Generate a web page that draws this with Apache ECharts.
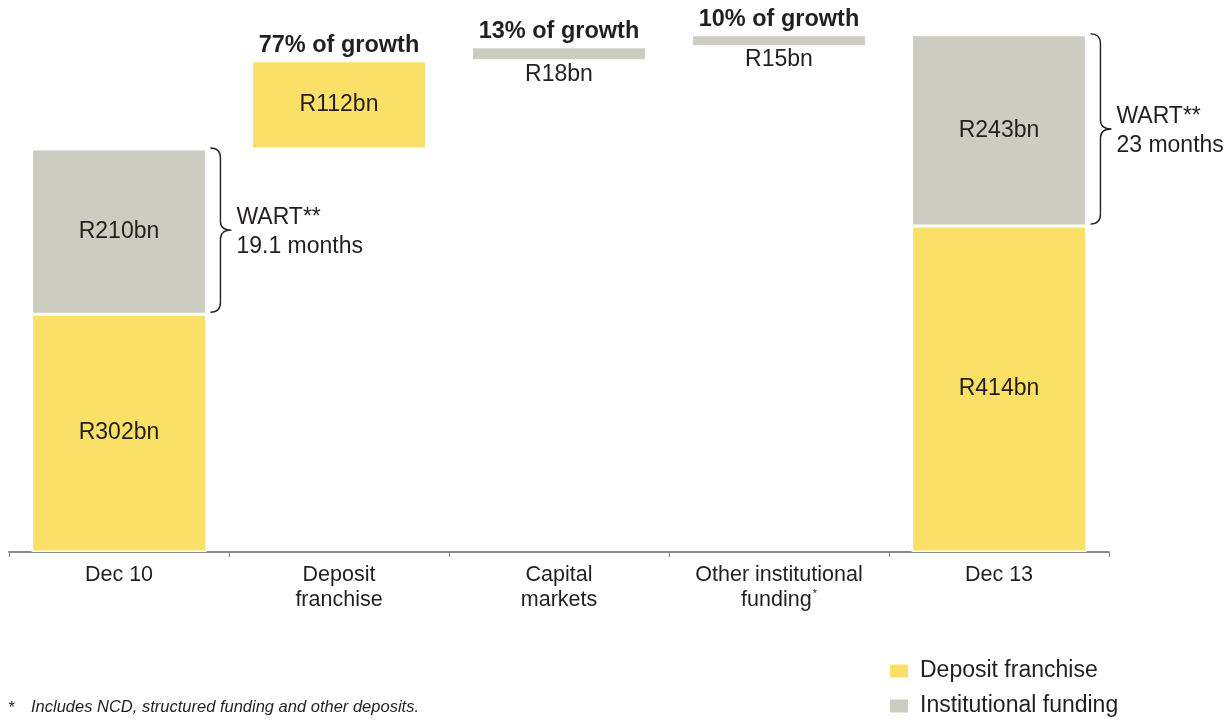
<!DOCTYPE html>
<html>
<head>
<meta charset="utf-8">
<script src="https://cdn.jsdelivr.net/npm/echarts@6/dist/echarts.min.js"></script>
<style>
  html, body { margin: 0; padding: 0; background: #fff; }
  #chart { width: 1231px; height: 720px; }
</style>
</head>
<body>
<div id="chart"></div>
<script>
// Funding growth bridge, Dec 10 to Dec 13 (R bn)
const categories = ['Dec 10', 'Deposit\nfranchise', 'Capital\nmarkets', 'Other institutional\nfunding{sup|*}', 'Dec 13'];
const depositValues = [302, 112, null, null, 414];
const institutionalValues = [210, null, 18, 15, 243];
// true = the bar is a total, false = an increment stacked on the running total
const isTotal = [true, false, false, false, true];
const growthLabels = ['', '77% of growth', '13% of growth', '10% of growth', ''];
const wartLabels = [['WART**', '19.1 months'], null, null, null, ['WART**', '23 months']];
const footnote = 'Includes NCD, structured funding and other deposits.';

const YELLOW = '#FBE068';
const GREY = '#CCCDC0';
const INK = '#231F20';
const FONT = "'Liberation Sans', Arial, Helvetica, sans-serif";
const BAR_RATIO = 0.795;

// invisible offsets that lift each increment onto the running total
const baseValues = [];
const topValues = [];
let running = 0;
categories.forEach((c, i) => {
  const d = depositValues[i] || 0;
  const f = institutionalValues[i] || 0;
  if (isTotal[i]) { baseValues.push(0); running = d + f; topValues.push(running); }
  else { baseValues.push(running); running += d + f; topValues.push(running); }
});

function barData(values) {
  return values.map(v => {
    if (v == null) return '-';
    if (v < 40) return { value: v, label: { position: 'bottom', distance: 2 } };
    return v;
  });
}

const valueLabel = {
  show: true,
  position: 'inside',
  formatter: p => 'R' + p.value + 'bn',
  color: INK,
  fontSize: 23,
  fontFamily: FONT
};

const chart = echarts.init(document.getElementById('chart'), null, { renderer: 'canvas' });

chart.setOption({
  animation: false,
  backgroundColor: '#fff',
  textStyle: { fontFamily: FONT },
  grid: { left: 9, right: 122, top: 1, bottom: 168, containLabel: false },
  legend: {
    data: ['Deposit franchise', 'Institutional funding'],
    orient: 'vertical',
    left: 888,
    top: 659,
    padding: 0,
    itemWidth: 20,
    itemHeight: 15,
    itemGap: 11,
    icon: 'rect',
    textStyle: { fontSize: 23, lineHeight: 24, color: INK, fontFamily: FONT, padding: [0, 0, 0, 6] }
  },
  xAxis: {
    type: 'category',
    data: categories,
    axisLine: { lineStyle: { color: '#8a8a8a', width: 2 } },
    axisTick: { show: true, length: 5, lineStyle: { color: '#8a8a8a', width: 1 } },
    axisLabel: {
      interval: 0,
      margin: 11,
      color: INK,
      fontSize: 21.5,
      lineHeight: 25,
      fontFamily: FONT,
      rich: {
        sup: { fontSize: 11, color: INK, verticalAlign: 'top', lineHeight: 25, padding: [0, 0, 10, 1] }
      }
    }
  },
  yAxis: { type: 'value', min: 0, max: 700, show: false, splitLine: { show: false } },
  series: [
    {
      name: 'base',
      type: 'bar',
      stack: 'bridge',
      barWidth: (BAR_RATIO * 100) + '%',
      itemStyle: { color: 'transparent' },
      emphasis: { disabled: true },
      data: baseValues
    },
    {
      name: 'Deposit franchise',
      type: 'bar',
      stack: 'bridge',
      barWidth: (BAR_RATIO * 100) + '%',
      itemStyle: { color: YELLOW, borderColor: '#fff', borderWidth: 1.5 },
      label: valueLabel,
      data: barData(depositValues)
    },
    {
      name: 'Institutional funding',
      type: 'bar',
      stack: 'bridge',
      barWidth: (BAR_RATIO * 100) + '%',
      itemStyle: { color: GREY, borderColor: '#fff', borderWidth: 1.5 },
      label: valueLabel,
      data: barData(institutionalValues)
    },
    {
      // share-of-growth captions above each increment
      name: 'growth',
      type: 'custom',
      clip: false,
      silent: true,
      data: categories.map((c, i) => [i, topValues[i]]),
      renderItem: (params, api) => {
        const i = api.value(0);
        const text = growthLabels[i];
        if (!text) return null;
        const pt = api.coord([i, api.value(1)]);
        return {
          type: 'text',
          x: pt[0],
          y: pt[1] - 3,
          style: {
            text: text,
            fill: INK,
            fontSize: 23.5,
            fontWeight: 'bold',
            fontFamily: FONT,
            align: 'center',
            verticalAlign: 'bottom'
          }
        };
      }
    },
    {
      // curly brace spanning the institutional segment of each total bar
      name: 'wart',
      type: 'custom',
      clip: false,
      silent: true,
      data: categories.map((c, i) => [i, depositValues[i] || 0, topValues[i]]).filter((d, i) => wartLabels[i]),
      renderItem: (params, api) => {
        const i = api.value(0);
        const lo = api.coord([i, api.value(1)]);
        const hi = api.coord([i, api.value(2)]);
        const half = api.size([1, 0])[0] * BAR_RATIO / 2;
        const x0 = lo[0] + half + 4;
        const top = hi[1] - 1;
        const bot = lo[1] - 2;
        const mid = (top + bot) / 2;
        const xs = x0 + 10;
        const xt = x0 + 21;
        const path =
          'M' + x0 + ',' + top +
          ' Q' + xs + ',' + top + ' ' + xs + ',' + (top + 10) +
          ' L' + xs + ',' + (mid - 9) +
          ' Q' + xs + ',' + mid + ' ' + xt + ',' + mid +
          ' Q' + xs + ',' + mid + ' ' + xs + ',' + (mid + 9) +
          ' L' + xs + ',' + (bot - 10) +
          ' Q' + xs + ',' + bot + ' ' + x0 + ',' + bot;
        const lines = wartLabels[i];
        return {
          type: 'group',
          children: [
            {
              type: 'path',
              shape: { pathData: path },
              style: { fill: 'none', stroke: INK, lineWidth: 1.4 }
            },
            {
              type: 'text',
              x: xt + 5,
              y: mid + 2,
              style: {
                text: lines.join('\n'),
                fill: INK,
                fontSize: 23,
                lineHeight: 29,
                fontFamily: FONT,
                align: 'left',
                verticalAlign: 'middle'
              }
            }
          ]
        };
      }
    }
  ],
  graphic: [
    {
      type: 'text',
      left: 8,
      top: 701,
      style: { text: '*', fill: INK, fontSize: 16, fontStyle: 'italic', fontFamily: FONT }
    },
    {
      type: 'text',
      left: 31,
      top: 699,
      style: { text: footnote, fill: INK, fontSize: 16.5, fontStyle: 'italic', fontFamily: FONT }
    }
  ]
});
</script>
</body>
</html>
